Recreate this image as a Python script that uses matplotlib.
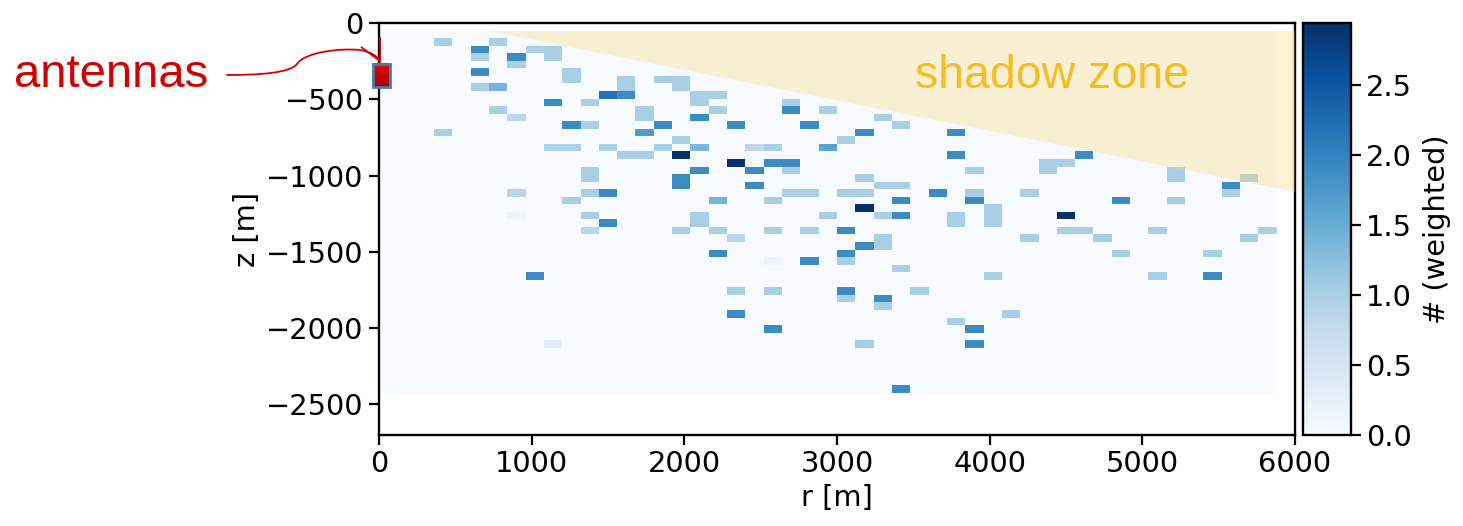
import numpy as np
import matplotlib
matplotlib.use("Agg")
import matplotlib.pyplot as plt
from matplotlib.patches import Polygon, Rectangle, FancyArrowPatch
from matplotlib.path import Path

# weighted vertex positions (bin centres) and their summed weights
r_m = [420, 660, 780, 660, 900, 1020, 1140, 1140, 900, 660, 1260, 1260, 660, 780,
       1620, 1620, 1860, 1980, 1980, 1140, 1380, 1500, 1620, 2100, 2220, 2100,
       780, 900, 1740, 1740, 2220, 2100, 1260, 1380, 1860, 2340, 1740, 420, 1980,
       1140, 1260, 1500, 1860, 2100, 2460, 2580, 1620, 1740, 1980, 2340, 2580,
       2700, 2100, 2460, 1380, 1380, 1980, 1980, 2460, 900, 1380, 1500, 1260,
       2220, 2580, 900, 1380, 2100,
       2700, 2700, 2940, 2820, 3300, 3420, 3180, 3780, 3060, 2940, 3780, 4620,
       4380, 4500, 4380, 3900, 2700, 2700, 2820, 3060, 3180, 3300, 3420, 3180,
       3660, 3900, 4260, 3420, 3900, 3180, 2940, 3300, 3420, 3780, 3780, 4020,
       4020, 4020, 4500, 2100, 2220, 2340, 2580, 2820, 3060, 3300, 3300, 3180,
       4260, 4500, 4620, 4740, 2220, 2580, 2820, 3060, 3060, 3420, 4020, 2340,
       2580, 3060, 3540, 3300, 3060,
       5220, 5220, 5700, 5580, 5580, 4860, 5220, 5100, 5700, 5820, 4860, 5460,
       5100, 5460,
       1500, 1380, 1980, 1020, 2340, 2580, 1140,
       3300, 4140, 3780, 3900, 3900, 3180, 3420]
z_m = [-125, -175, -125, -225, -225, -175, -175, -225, -275, -320, -320, -370,
       -420, -420, -370, -420, -370, -370, -420, -520, -520, -470, -470, -470,
       -470, -520, -570, -620, -570, -620, -570, -620, -670, -670, -670, -670,
       -720, -720, -765, -815, -815, -815, -815, -815, -815, -815, -865, -865,
       -865, -915, -915, -915, -965, -965, -965, -1015, -1015, -1065, -1065,
       -1115, -1115, -1115, -1165, -1165, -1165, -1260, -1260, -1260,
       -520, -570, -570, -670, -620, -670, -720, -720, -765, -815, -865, -865,
       -915, -915, -965, -965, -965, -1115, -1115, -1115, -1115, -1065, -1065,
       -1015, -1115, -1115, -1115, -1165, -1165, -1215, -1260, -1260, -1260,
       -1260, -1310, -1215, -1260, -1310, -1260, -1310, -1360, -1410, -1360,
       -1360, -1360, -1410, -1460, -1460, -1410, -1360, -1360, -1410, -1510,
       -1560, -1560, -1510, -1560, -1610, -1660, -1755, -1755, -1755, -1755,
       -1805, -1805,
       -965, -1015, -1015, -1065, -1115, -1165, -1165, -1360, -1410, -1360,
       -1510, -1510, -1660, -1660,
       -1310, -1360, -1360, -1660, -1905, -2005, -2105,
       -1855, -1905, -1955, -2005, -2105, -2105, -2400]
weight = [1.0, 1.9, 1.0, 1.0, 1.9, 1.0, 1.0, 1.0, 1.0, 1.9, 1.0, 1.0, 1.0, 1.4,
          1.0, 1.0, 1.0, 1.0, 1.0, 1.9, 1.0, 2.2, 1.9, 1.0, 1.0, 1.0,
          1.0, 0.85, 1.0, 1.0, 1.0, 1.9, 1.9, 1.0, 1.9, 1.9, 1.7, 1.0, 1.0,
          0.95, 0.95, 1.0, 1.0, 1.35, 0.8, 1.0, 1.0, 1.0, 2.94, 2.94, 1.9,
          1.9, 1.9, 1.9, 1.0, 1.0, 1.9, 1.9, 1.9, 0.85, 1.0, 1.9, 1.0,
          1.4, 1.0, 0.15, 1.0, 1.0,
          1.0, 1.9, 1.0, 1.9, 1.0, 1.0, 1.9, 1.9, 1.0, 1.6, 1.9, 1.9,
          1.0, 1.0, 1.0, 1.0, 1.0, 1.0, 1.0, 1.0, 1.0, 1.0, 1.0, 1.0,
          1.9, 1.0, 1.0, 1.9, 1.9, 2.94, 1.0, 1.0, 1.9, 1.0, 1.0, 1.0,
          1.0, 1.0, 2.94, 1.0, 1.0, 0.85, 1.0, 1.0, 1.9, 1.0, 1.0, 1.9,
          1.0, 1.0, 1.0, 1.0, 1.9, 0.15, 1.9, 1.9, 1.0, 1.0, 1.0, 1.0,
          1.0, 1.9, 1.0, 1.9, 1.0,
          1.0, 1.0, 1.0, 1.9, 1.0, 1.9, 1.0, 1.0, 1.0, 1.0, 1.0, 1.0,
          1.0, 1.9,
          1.9, 0.85, 1.0, 1.9, 1.9, 1.9, 0.3,
          1.0, 1.0, 1.0, 1.9, 1.9, 1.0, 1.9]

r_edges = np.arange(0, 5881, 120)
z_edges = np.linspace(-2425, -50, 49)
vmax = 2.94

# shadow zone boundary and antenna position
shadow_r = [720, 6000, 6000]
shadow_z = [-50, -50, -1106]
antenna_r = [-42, 70]
antenna_z = [-420, -267]

plt.rcParams['font.size'] = 20.8
plt.rcParams['axes.linewidth'] = 1.7

fig = plt.figure(figsize=(14.63, 5.26), dpi=100)
W, H = 1463, 526
ax = fig.add_axes([379 / W, 1 - 435 / H, 916 / W, 412 / H])
cax = fig.add_axes([1303 / W, 1 - 435 / H, 48 / W, 412 / H])

hist, _, _ = np.histogram2d(r_m, z_m, bins=[r_edges, z_edges], weights=weight)
mesh = ax.pcolormesh(r_edges, z_edges, hist.T, cmap='Blues', vmin=0, vmax=vmax)

ax.add_patch(Polygon(list(zip(shadow_r, shadow_z)), closed=True,
                     facecolor='#ffd670', alpha=0.3, lw=0, zorder=3))

# antenna box, red gradient with a steel-blue rim
grad = np.linspace(0, 1, 50)[:, None]
rgb = np.dstack([0.93 - 0.3 * grad, 0.0 * grad, 0.02 * grad])
ax.imshow(rgb, extent=[antenna_r[0], antenna_r[1], antenna_z[0], antenna_z[1]],
          origin='upper', aspect='auto', zorder=5, clip_on=False)
ax.add_patch(Rectangle((antenna_r[0], antenna_z[0]), antenna_r[1] - antenna_r[0],
                       antenna_z[1] - antenna_z[0], facecolor='none',
                       edgecolor='#4f79a8', lw=2, zorder=6, clip_on=False))

ax.set_xlim(0, 6000)
ax.set_ylim(-2700, 0)
ax.set_xticks([0, 1000, 2000, 3000, 4000, 5000, 6000])
ax.set_yticks([0, -500, -1000, -1500, -2000, -2500])
ax.tick_params(length=7.5, width=1.6)
ax.set_xlabel('r [m]')
ax.set_ylabel('z [m]')

cb = fig.colorbar(mesh, cax=cax)
cb.set_ticks([0.0, 0.5, 1.0, 1.5, 2.0, 2.5])
cb.ax.tick_params(length=7.5, width=1.6)
cb.outline.set_linewidth(1.7)
cb.set_label('# (weighted)', labelpad=8)

fig.text(915 / W, 1 - 88 / H, 'shadow zone', color='#f3bd24',
         fontsize=33.5, family='Liberation Sans', ha='left', va='baseline')
fig.text(14 / W, 1 - 87 / H, 'antennas', color='#d20000',
         fontsize=34, family='Liberation Sans', ha='left', va='baseline')

pts = [(227, 75), (260, 75), (290, 73), (297, 64),
       (305, 52), (340, 48), (360, 50),
       (372, 52), (378, 57), (381, 63)]
codes = [Path.MOVETO] + [Path.CURVE4] * 9
verts = [(x / W, 1 - y / H) for x, y in pts]
arrow = FancyArrowPatch(path=Path(verts, codes), arrowstyle='->,head_length=0.5,head_width=0.25',
                        mutation_scale=30, color='#d20000', lw=1.3,
                        transform=fig.transFigure)
fig.patches.append(arrow)

fig.savefig('out.png', dpi=100)
